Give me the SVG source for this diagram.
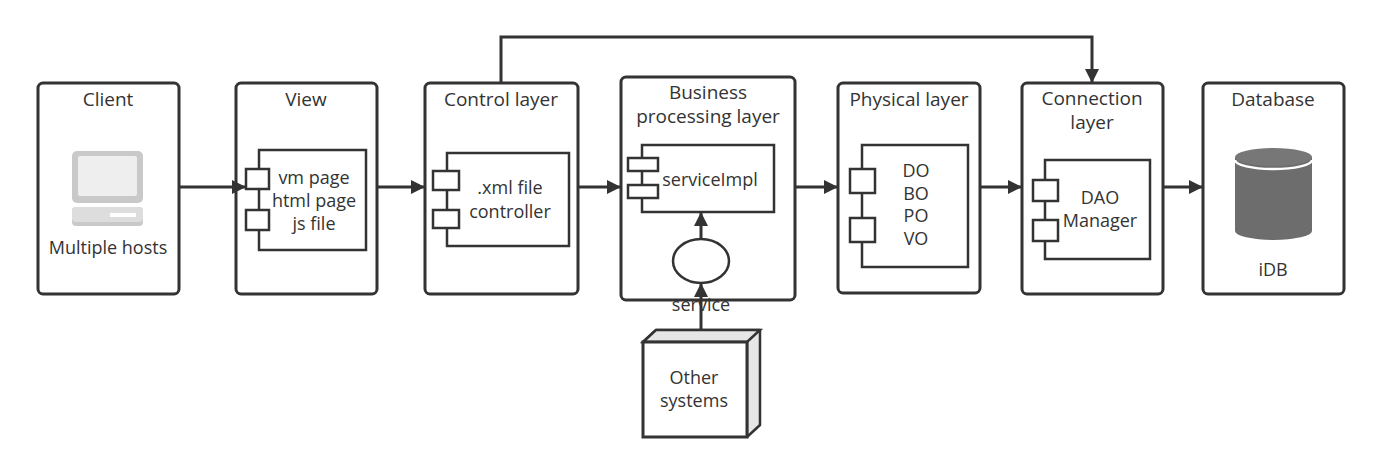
<svg xmlns="http://www.w3.org/2000/svg" width="1381" height="473" viewBox="0 0 1381 473">
<style>
.box{fill:#fff;stroke:#333;stroke-width:3}
.in{fill:#fff;stroke:#333;stroke-width:2.5}
.t{font-family:"Open Sans","Noto Sans",sans-serif;font-size:19px;fill:#333;text-anchor:middle}
.s{font-family:"Open Sans","Noto Sans",sans-serif;font-size:18px;fill:#333;text-anchor:middle}
.ln{fill:none;stroke:#333;stroke-width:3}
</style>
<defs><marker id="b" markerWidth="14" markerHeight="14" refX="13" refY="7" orient="auto" markerUnits="userSpaceOnUse" viewBox="0 0 14 14"><path d="M0,0 L14,7 L0,14 z" fill="#333"/></marker></defs>
<rect width="1381" height="473" fill="#fff"/>
<g id="client"><rect class="box" x="38" y="83" width="141" height="211" rx="5"/><text class="t" x="108" y="106">Client</text>
<rect x="72" y="151" width="71" height="52" rx="5" fill="#c9c9c9"/><rect x="78" y="156" width="59" height="40" rx="2" fill="#eee"/>
<rect x="72" y="207" width="71" height="19" rx="4" fill="#c9c9c9"/><rect x="72" y="207" width="71" height="15" rx="4" fill="#ddd"/><rect x="110" y="213" width="26" height="4" fill="#fff"/>
<text class="s" x="108" y="254">Multiple hosts</text></g>
<g id="view"><rect class="box" x="236" y="83" width="141" height="211" rx="5"/><text class="t" x="306" y="106">View</text>
<rect class="in" x="259" y="150" width="107" height="100"/><rect class="in" x="246" y="169" width="23" height="20"/><rect class="in" x="246" y="210" width="23" height="20"/>
<text class="s" x="314" y="184">vm page</text><text class="s" x="314" y="207">html page</text><text class="s" x="314" y="230">js file</text></g>
<g id="control"><rect class="box" x="425" y="83" width="153" height="211" rx="5"/><text class="t" x="501" y="106">Control layer</text>
<rect class="in" x="447" y="153" width="122" height="93"/><rect class="in" x="433" y="171" width="26" height="19"/><rect class="in" x="433" y="210" width="26" height="18"/>
<text class="s" x="510" y="194">.xml file</text><text class="s" x="510" y="218">controller</text></g>
<g id="business"><rect class="box" x="621" y="77" width="174" height="223" rx="5"/><text class="t" x="708" y="99">Business</text><text class="t" x="708" y="123">processing layer</text>
<rect class="in" x="642" y="145" width="132" height="67"/><rect class="in" x="628" y="158" width="30" height="13"/><rect class="in" x="628" y="185" width="30" height="13"/>
<text class="s" x="710" y="186">serviceImpl</text>
<ellipse class="in" cx="701" cy="261" rx="28" ry="22"/></g>
<g id="physical"><rect class="box" x="838" y="83" width="142" height="210" rx="5"/><text class="t" x="909" y="106">Physical layer</text>
<rect class="in" x="862" y="145" width="106" height="122"/><rect class="in" x="850" y="169" width="25" height="24"/><rect class="in" x="850" y="218" width="25" height="24"/>
<text class="s" x="916" y="177">DO</text><text class="s" x="916" y="200">BO</text><text class="s" x="916" y="222">PO</text><text class="s" x="916" y="245">VO</text></g>
<g id="connection"><rect class="box" x="1022" y="83" width="141" height="211" rx="5"/><text class="t" x="1092" y="105">Connection</text><text class="t" x="1092" y="129">layer</text>
<rect class="in" x="1045" y="160" width="105" height="99"/><rect class="in" x="1033" y="180" width="25" height="21"/><rect class="in" x="1033" y="220" width="25" height="21"/>
<text class="s" x="1100" y="204">DAO</text><text class="s" x="1100" y="227">Manager</text></g>
<g id="database"><rect class="box" x="1203" y="83" width="141" height="211" rx="5"/><text class="t" x="1273" y="106">Database</text>
<path d="M1235,157 L1235,231 A38.5,9 0 0 0 1312,231 L1312,157 Z" fill="#6d6d6d"/>
<ellipse cx="1273.5" cy="157" rx="38.5" ry="9" fill="#777"/><path d="M1235,160 A38.5,9 0 0 0 1312,160" fill="none" stroke="#fff" stroke-width="2.5"/>
<text class="s" x="1273" y="276">iDB</text></g>
<g id="other"><path d="M643,342 L656,330 L760,330 L760,425 L747,437 L747,342 Z" fill="#e6e6e6" stroke="#333" stroke-width="2.5" stroke-linejoin="round"/><path d="M643,342 L656,330 L760,330 L747,342 Z" fill="#e6e6e6" stroke="#333" stroke-width="2.5"/>
<rect class="box" x="643" y="342" width="104" height="95"/><text class="s" x="694" y="384">Other</text><text class="s" x="694" y="407">systems</text></g>
<g id="connectors">
<path class="ln" d="M179,187 L245,187" marker-end="url(#b)"/>
<path class="ln" d="M377,187 L424,187" marker-end="url(#b)"/>
<path class="ln" d="M578,187 L620,187" marker-end="url(#b)"/>
<path class="ln" d="M795,187 L837,187" marker-end="url(#b)"/>
<path class="ln" d="M980,187 L1021,187" marker-end="url(#b)"/>
<path class="ln" d="M1163,187 L1202,187" marker-end="url(#b)"/>
<path class="ln" d="M501,83 L501,37 L1092,37 L1092,82" marker-end="url(#b)"/>
<path class="ln" d="M701,239 L701,213" marker-end="url(#b)"/>
<path class="ln" d="M701,330 L701,284" marker-end="url(#b)"/>
<text class="s" x="701" y="311">service</text>
</g>
</svg>
